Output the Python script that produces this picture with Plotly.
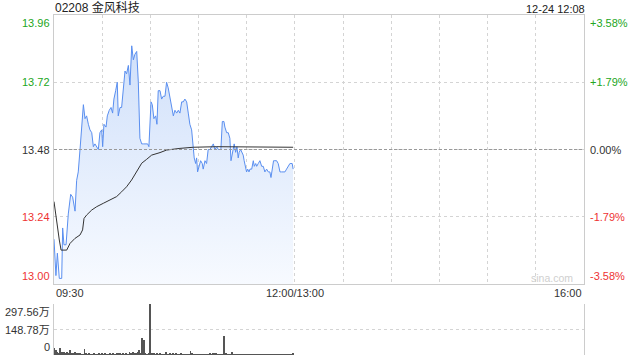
import plotly.graph_objects as go

# ---------------- data ----------------
TITLE = "02208 金风科技"
STAMP = "12-24 12:08"
PREV_CLOSE = 13.48

# trading minutes after 09:30 (0..330, lunch break collapsed)
price_min = [0, 1.2, 2.1, 3.3, 4.8, 5.4, 6.2, 7.5, 8.9, 10.4, 11.6, 13.1, 14.1, 15.1, 16.2, 17.2,
             18.3, 19.3, 20.3, 21.4, 22.4, 23.5, 24.5, 25.5, 26.6, 27.6, 28.6, 29.7, 30.3, 31.1,
             32.4, 33.2, 34.4, 35.5, 36.5, 37.3, 38.4, 39.4, 40.0, 41.1, 42.1, 43.1, 44.2, 45.2,
             46.3, 47.3, 48.4, 49.4, 50.4, 51.5, 52.5, 53.5, 54.6, 55.6, 56.6, 58.3, 59.1, 60.4,
             61.2, 62.2, 63.3, 64.1, 64.9, 66.0, 67.0, 68.0, 69.1, 70.1, 71.1, 72.2, 73.2, 74.3,
             75.3, 76.4, 77.4, 78.4, 79.5, 80.5, 81.5, 82.6, 83.6, 84.6, 85.7, 86.7, 87.3, 88.2,
             88.8, 89.4, 90.2, 91.3, 92.3, 92.9, 94.0, 95.0, 96.0, 97.1, 98.1, 99.2, 100.2, 101.3,
             102.3, 103.3, 103.9, 104.8, 105.8, 106.4, 107.5, 108.5, 109.5, 110.2, 111.0, 111.6,
             112.2, 113.1, 113.9, 114.7, 115.3, 116.2, 116.8, 117.8, 118.4, 119.3, 119.9, 120.6,
             121.4, 122.0, 123.1, 124.1, 124.7, 125.6, 126.2, 127.2, 128.2, 129.3, 130.3, 131.3,
             132.4, 133.4, 134.4, 135.1, 135.9, 136.7, 137.5, 138.6, 139.6, 140.7, 141.7, 142.7,
             143.8, 144.8, 145.8, 146.9, 147.5, 148.3, 148.9]
price = [13.16, 13.03, 13.11, 13.02, 13.02, 13.20, 13.14, 13.14, 13.25, 13.32, 13.31, 13.26, 13.37,
         13.40, 13.48, 13.55, 13.64, 13.59, 13.60, 13.57, 13.55, 13.54, 13.49, 13.50, 13.49, 13.48,
         13.54, 13.55, 13.49, 13.57, 13.56, 13.60, 13.62, 13.63, 13.61, 13.66, 13.69, 13.72, 13.60,
         13.63, 13.63, 13.69, 13.76, 13.75, 13.78, 13.71, 13.85, 13.80, 13.82, 13.83, 13.72, 13.52,
         13.50, 13.50, 13.50, 13.50, 13.49, 13.65, 13.64, 13.59, 13.60, 13.57, 13.69, 13.69, 13.66,
         13.67, 13.67, 13.72, 13.70, 13.66, 13.64, 13.60, 13.62, 13.61, 13.62, 13.61, 13.65, 13.65,
         13.66, 13.65, 13.61, 13.57, 13.55, 13.49, 13.45, 13.43, 13.45, 13.40, 13.42, 13.44, 13.43,
         13.41, 13.44, 13.43, 13.48, 13.48, 13.49, 13.50, 13.48, 13.49, 13.48, 13.48, 13.48, 13.58,
         13.58, 13.56, 13.54, 13.54, 13.52, 13.44, 13.47, 13.48, 13.50, 13.47, 13.49, 13.45, 13.47,
         13.48, 13.47, 13.46, 13.44, 13.41, 13.40, 13.41, 13.40, 13.41, 13.41, 13.44, 13.42, 13.43,
         13.42, 13.43, 13.44, 13.42, 13.42, 13.40, 13.41, 13.40, 13.40, 13.38, 13.41, 13.44, 13.44,
         13.44, 13.43, 13.40, 13.40, 13.40, 13.40, 13.41, 13.42, 13.43, 13.43, 13.43, 13.41]

avg_min = [0, 1.7, 3.3, 4.4, 7.9, 10, 13.1, 16.2, 17.8, 18.7, 20.3, 23.5, 26.6, 30.7, 34.9, 39,
           42.1, 45.2, 48.3, 51.5, 54.6, 57.7, 60.8, 66, 70.1, 78.4, 86.7, 101.3, 122, 148.9]
avg_price = [13.294, 13.217, 13.157, 13.121, 13.121, 13.145, 13.163, 13.175, 13.193, 13.234,
             13.246, 13.264, 13.276, 13.288, 13.300, 13.312, 13.329, 13.347, 13.371, 13.401,
             13.431, 13.445, 13.460, 13.469, 13.478, 13.484, 13.488, 13.490, 13.490, 13.488]

# volume per minute, in 万
volume = [39, 29, 19, 12, 39, 15, 20, 10, 15, 12, 29, 10, 8, 20, 10, 6, 10, 5, 4, 35,
          6, 4, 6, 3, 4, 12, 5, 3, 6, 4, 8, 4, 6, 3, 5, 8, 4, 6, 5, 8,
          12, 12, 5, 6, 4, 8, 5, 15, 6, 15, 8, 6, 15, 29, 8, 97, 88, 6, 4, 12,
          297.56, 6, 12, 4, 12, 4, 6, 4, 3, 5, 15, 4, 6, 4, 12, 4, 12, 5, 4, 6,
          4, 3, 4, 5, 4, 23, 12, 4, 3, 4, 5, 3, 4, 3, 4, 5, 4, 6, 4, 6,
          12, 10, 4, 3, 5, 4, 113, 6, 4, 3, 5, 15, 4, 3, 4, 3, 4, 3, 5, 3,
          4, 3, 4, 3, 4, 3, 4, 3, 4, 5, 3, 4, 3, 4, 3, 4, 3, 4, 3, 4,
          3, 4, 3, 4, 3, 4, 3, 4, 3, 12]
vol_min = list(range(len(volume)))

price_ticks = [13.96, 13.72, 13.48, 13.24, 13.00]
price_labels = ["13.96", "13.72", "13.48", "13.24", "13.00"]
pct_labels = ["+3.58%", "+1.79%", "0.00%", "-1.79%", "-3.58%"]
vol_ticks = [297.56, 148.78, 0]
vol_labels = ["297.56万", "148.78万", "0"]
x_tick_pos = [0, 150, 330]
x_tick_labels = ["09:30", "12:00/13:00", "16:00"]

# ---------------- style ----------------
FONT = "Liberation Sans, Arial, Noto Sans CJK SC, sans-serif"
GREEN = "#22a622"
RED = "#ee3333"
DARK = "#333333"
GRID = "#d4d4d4"
BORDER = "#cccccc"
LINE_BLUE = "#5a8ff0"

MAIN_DOM = [0.2088, 1.0]
VOL_DOM = [0.0, 0.15]


def label_color(v):
    if v > PREV_CLOSE + 1e-9:
        return GREEN
    if v < PREV_CLOSE - 1e-9:
        return RED
    return DARK


fig = go.Figure()

fig.add_trace(go.Scatter(
    x=price_min, y=price, mode="lines",
    line=dict(color=LINE_BLUE, width=1),
    fill="tozeroy",
    fillgradient=dict(type="vertical",
                      colorscale=[[0, "rgba(247,250,255,1)"], [1, "rgba(208,224,250,1)"]],
                      start=min(price_ticks), stop=max(price)),
    xaxis="x", yaxis="y", hoverinfo="skip"))

fig.add_trace(go.Scatter(
    x=avg_min, y=avg_price, mode="lines",
    line=dict(color="#333333", width=1),
    xaxis="x", yaxis="y", hoverinfo="skip"))

fig.add_trace(go.Bar(
    x=vol_min, y=volume, width=0.55,
    marker=dict(color="#555555", line=dict(width=0)),
    xaxis="x2", yaxis="y2", hoverinfo="skip"))

annotations = []
for v, lab in zip(price_ticks, price_labels):
    ya = "top" if v == max(price_ticks) else ("bottom" if v == min(price_ticks) else "middle")
    annotations.append(dict(x=0, xref="paper", xanchor="right", xshift=-2, y=v, yref="y",
                            yanchor=ya, text=lab, showarrow=False,
                            font=dict(size=11, color=label_color(v), family=FONT)))
for v, lab in zip(price_ticks, pct_labels):
    ya = "top" if v == max(price_ticks) else ("bottom" if v == min(price_ticks) else "middle")
    annotations.append(dict(x=1, xref="paper", xanchor="left", xshift=4, y=v, yref="y",
                            yanchor=ya, text=lab, showarrow=False,
                            font=dict(size=11, color=label_color(v), family=FONT)))
for v, lab in zip(vol_ticks, vol_labels):
    ya = "top" if v == max(vol_ticks) else ("bottom" if v == 0 else "middle")
    annotations.append(dict(x=0, xref="paper", xanchor="right", xshift=-2, y=v, yref="y2",
                            yanchor=ya, text=lab, showarrow=False,
                            font=dict(size=11, color=DARK, family=FONT)))
for p, lab in zip(x_tick_pos, x_tick_labels):
    xa = "left" if p == min(x_tick_pos) else ("right" if p == max(x_tick_pos) else "center")
    annotations.append(dict(x=p, xref="x", xanchor=xa, y=MAIN_DOM[0], yref="paper",
                            yanchor="top", yshift=-1, text=lab, showarrow=False,
                            font=dict(size=11, color=DARK, family=FONT)))
annotations.append(dict(x=0, xref="paper", xanchor="left", xshift=-1, y=1, yref="paper",
                        yanchor="bottom", yshift=-2, text=TITLE, showarrow=False,
                        font=dict(size=12, color="#222222", family=FONT)))
annotations.append(dict(x=1, xref="paper", xanchor="right", xshift=3, y=1, yref="paper",
                        yanchor="bottom", yshift=-2, text=STAMP, showarrow=False,
                        font=dict(size=11, color="#222222", family=FONT)))
annotations.append(dict(x=1, xref="paper", xanchor="right", xshift=-9, y=MAIN_DOM[0],
                        yref="paper", yanchor="bottom", yshift=-2, text="sina.com",
                        showarrow=False, font=dict(size=10.5, color="#cfcfcf", family=FONT)))

fig.update_layout(
    width=640, height=360,
    margin=dict(l=54, r=56, t=15, b=5),
    paper_bgcolor="white", plot_bgcolor="white",
    showlegend=False,
    font=dict(family=FONT),
    xaxis=dict(domain=[0, 1], range=[0, 330], tickvals=list(range(0, 331, 30)),
               showticklabels=False, showgrid=True, gridcolor=GRID, griddash="dot",
               gridwidth=1, showline=True, linecolor=BORDER, linewidth=1, mirror=True,
               zeroline=False, ticks="", anchor="y"),
    yaxis=dict(domain=MAIN_DOM, range=[min(price_ticks), max(price_ticks)],
               tickvals=price_ticks, showticklabels=False, showgrid=True, gridcolor=GRID,
               griddash="dot", showline=True, linecolor=BORDER, linewidth=1, mirror=True,
               zeroline=False, ticks="", anchor="x"),
    xaxis2=dict(domain=[0, 1], range=[0, 330], showticklabels=False, showgrid=False,
                showline=False, zeroline=False, ticks="", anchor="y2"),
    yaxis2=dict(domain=VOL_DOM, range=[0, max(vol_ticks)], tickvals=vol_ticks,
                showticklabels=False, showgrid=True, gridcolor=GRID, griddash="dot",
                showline=True, linecolor=BORDER, linewidth=1, mirror=True,
                zeroline=False, ticks="", anchor="x2"),
    annotations=annotations,
    shapes=[dict(type="line", xref="x domain", x0=0, x1=1, yref="y", y0=PREV_CLOSE,
                 y1=PREV_CLOSE, line=dict(color="#999999", width=1, dash="3px,2px"),
                 layer="above")],
    bargap=0,
)

fig.write_html("out.html")
